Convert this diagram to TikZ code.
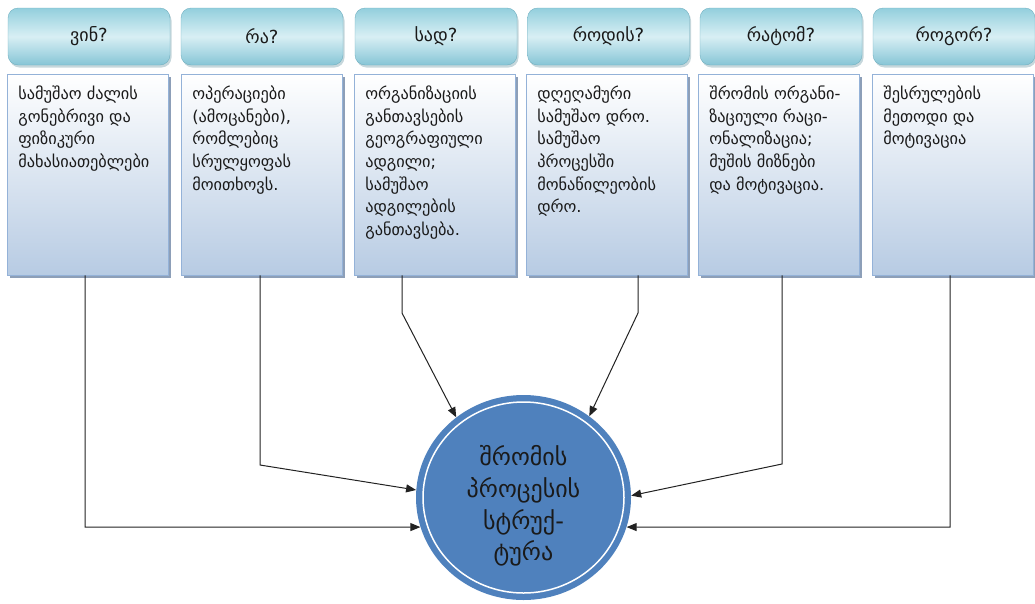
\documentclass[tikz,border=0pt]{standalone}
\usepackage{fontspec}
\newfontfamily\geo{DejaVu Sans}
\usetikzlibrary{arrows.meta,shapes.geometric,calc}

\definecolor{hdrtop}{HTML}{93CFDD}
\definecolor{hdrmid}{HTML}{D8EFF4}
\definecolor{hdrbot}{HTML}{86C5D6}
\definecolor{hdredge}{HTML}{72B0C1}
\definecolor{boxbot}{HTML}{B7CBE3}
\definecolor{boxedge}{HTML}{94B2D8}
\definecolor{boxshadow}{HTML}{8D9FB8}
\definecolor{hub}{HTML}{4F81BD}
\definecolor{wire}{HTML}{222222}
\definecolor{ink}{HTML}{1A1A1A}

\tikzset{
  hdr/.style={draw=hdredge, line width=0.4pt, rounded corners=10pt,
    top color=hdrtop, bottom color=hdrbot, middle color=hdrmid,
    minimum width=162pt, minimum height=57pt, inner sep=0pt,
    text=ink, font=\geo\fontsize{18}{21}\selectfont},
  hdrshadow/.style={fill=hdredge!80!black, opacity=0.35, rounded corners=10pt},
  cbox/.style={draw=boxedge, line width=0.8pt, top color=white, bottom color=boxbot,
    minimum width=161pt, minimum height=201pt, inner sep=0pt},
  cshadow/.style={fill=boxshadow},
  ctext/.style={anchor=north west, inner sep=0pt, align=left, text=ink,
    font=\geo\fontsize{16.3}{22.7}\selectfont},
  hubnode/.style={ellipse, fill=hub, minimum width=215pt, minimum height=205pt, inner sep=0pt},
  hubtext/.style={align=center, text=ink, inner sep=0pt,
    font=\geo\fontsize{24}{31.7}\selectfont},
  link/.style={draw=wire, line width=1pt, -{Triangle[length=10pt,width=8pt]}}
}

\begin{document}
\begin{tikzpicture}[x=1pt, y=-1pt]
\useasboundingbox (0,0) rectangle (1035,603);

% header boxes with their soft shadows
\foreach \cx in {89,262,436,608.5,781,954}{
  \fill[hdrshadow] (\cx-81+1.5,8+2.5) rectangle (\cx+81+1.5,65+2.5);
}
\node[hdr] (h1) at (89,36.5)   {ვინ?};
\node[hdr] (h2) at (262,36.5)  {რა?};
\node[hdr] (h3) at (436,36.5)  {სად?};
\node[hdr] (h4) at (608.5,36.5){როდის?};
\node[hdr] (h5) at (781,36.5)  {რატომ?};
\node[hdr] (h6) at (954,36.5)  {როგორ?};

% content boxes with offset shadows
\foreach \cx in {88,262,435,607,779,953}{
  \fill[cshadow] (\cx-80.5+2.5,74+3) rectangle (\cx+80.5+2.5,275+3);
}
\node[cbox] (b1) at (88,174.5)  {};
\node[cbox] (b2) at (262,174.5) {};
\node[cbox] (b3) at (435,174.5) {};
\node[cbox] (b4) at (607,174.5) {};
\node[cbox] (b5) at (779,174.5) {};
\node[cbox] (b6) at (953,174.5) {};

\node[ctext] (t1) at ($(b1.north west)+(11,12)$) {სამუშაო ძალის\\გონებრივი და\\ფიზიკური\\მახასიათებლები};
\node[ctext] (t2) at ($(b2.north west)+(11,12)$) {ოპერაციები\\(ამოცანები),\\რომლებიც\\სრულყოფას\\მოითხოვს.};
\node[ctext] (t3) at ($(b3.north west)+(11,12)$) {ორგანიზაციის\\განთავსების\\გეოგრაფიული\\ადგილი;\\სამუშაო\\ადგილების\\განთავსება.};
\node[ctext] (t4) at ($(b4.north west)+(11,12)$) {დღეღამური\\სამუშაო დრო.\\სამუშაო\\პროცესში\\მონაწილეობის\\დრო.};
\node[ctext] (t5) at ($(b5.north west)+(11,12)$) {შრომის ორგანი-\\ზაციული რაცი-\\ონალიზაცია;\\მუშის მიზნები\\და მოტივაცია.};
\node[ctext] (t6) at ($(b6.north west)+(11,12)$) {შესრულების\\მეთოდი და\\მოტივაცია};

% central hub
\node[hubnode] (c) at (523.5,497.5) {};
\draw[white, line width=1.5pt] (c.center) ellipse [x radius=100.5, y radius=95.5];
\node[hubtext] (ct) at (523.5,506) {შრომის\\პროცესის\\სტრუქ-\\ტურა};

% connector bends
\coordinate (k1) at (85,527);
\coordinate (k2) at (260,465);
\coordinate (k3) at (402,313);
\coordinate (k4) at (638,313);
\coordinate (k5) at (782,464);
\coordinate (k6) at (950,527);

\draw[link] (k1 |- b1.south) -- (k1) -- (c.196);
\draw[link] (k2 |- b2.south) -- (k2) -- (c.176);
\draw[link] (k3 |- b3.south) -- (k3) -- (c.130);
\draw[link] (k4 |- b4.south) -- (k4) -- (c.51);
\draw[link] (k5 |- b5.south) -- (k5) -- (c.1);
\draw[link] (k6 |- b6.south) -- (k6) -- (c.344);
\end{tikzpicture}
\end{document}
